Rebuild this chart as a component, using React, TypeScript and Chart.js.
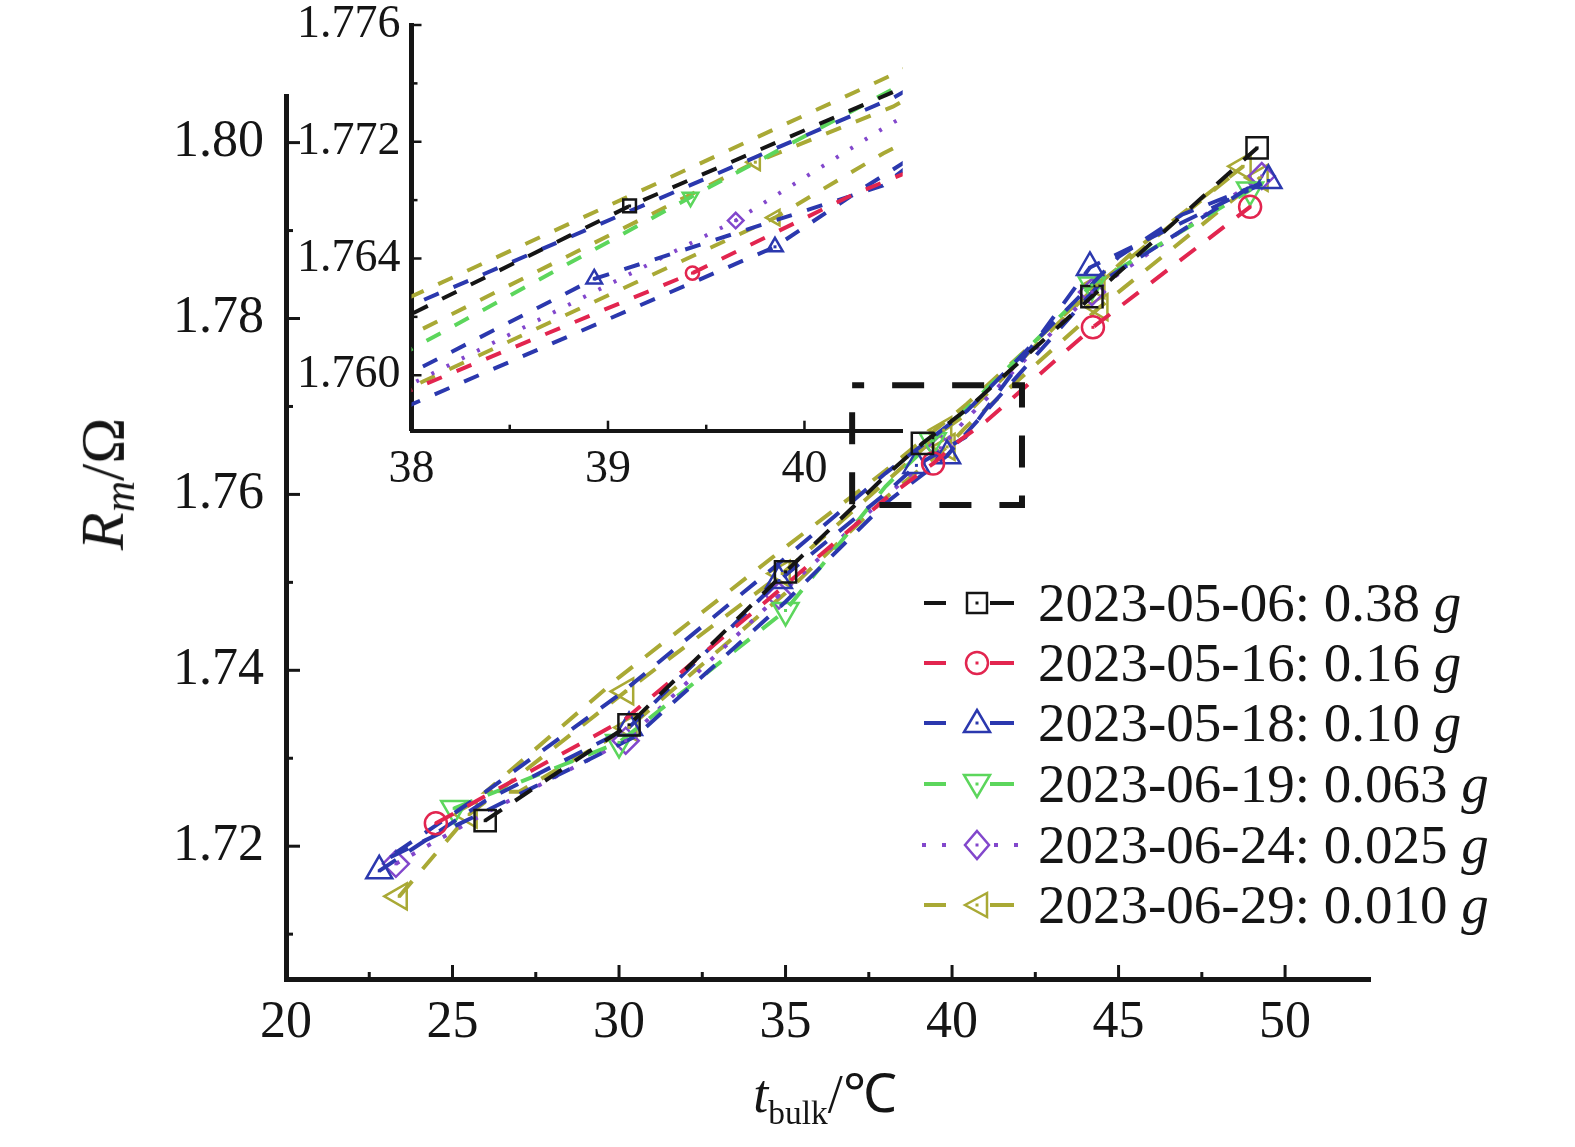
import { useEffect, useRef } from "react";
import { Chart, registerables } from "chart.js";

Chart.register(...registerables);

const SERIF = '"Liberation Serif", "Times New Roman", serif';

// axis ticks (main chart)
const X_TICKS = [20, 25, 30, 35, 40, 45, 50];
const X_MINOR = [22.5, 27.5, 32.5, 37.5, 42.5, 47.5];
const Y_TICKS = [1.72, 1.74, 1.76, 1.78, 1.8];
const Y_MINOR = [1.71, 1.73, 1.75, 1.77, 1.79];

// axis ticks (inset), labels as printed in the figure
const INSET_X_TICKS = [38, 39, 40];
const INSET_X_MINOR = [38.5, 39.5];
const INSET_Y_TICKS = [1.76, 1.764, 1.768, 1.772];
const INSET_Y_MINOR = [1.762, 1.766, 1.77];
const INSET_Y_LABELS = ["1.760", "1.764", "1.772", "1.776"];

// region magnified by the inset
const ZOOM_BOX_X = [37.0, 42.1];
const ZOOM_BOX_Y = [1.7588, 1.7724];

const LEGEND_DATES = ["2023-05-06", "2023-05-16", "2023-05-18", "2023-06-19", "2023-06-24", "2023-06-29"];
const LEGEND_G = ["0.38", "0.16", "0.10", "0.063", "0.025", "0.010"];

// 2023-05-06: 0.38 g
const X_0506 = [25.98, 30.3, 35.0, 38.0, 39.11, 40.45, 44.2, 49.16];
const Y_0506 = [1.7229, 1.7338, 1.7512, 1.7621, 1.7658, 1.7697, 1.7825, 1.7994];
const M_0506 = [1, 1, 1, 0, 1, 0, 1, 1];

// 2023-05-16: 0.16 g
const X_0516 = [24.5, 30.2, 35.0, 38.0, 39.43, 40.25, 41.05, 44.23, 48.95];
const Y_0516 = [1.7226, 1.7345, 1.7497, 1.7595, 1.7635, 1.7662, 1.7684, 1.779, 1.7927];
const M_0516 = [1, 0, 0, 0, 1, 0, 0, 1, 1];

// 2023-05-18: 0.10 g (up, down, up again)
const X_0518 = [22.8, 26.0, 30.3, 34.8, 38.0, 38.93, 40.4, 44.14, 49.5, 46.9, 45.0, 40.45, 38.0, 35.0, 30.0, 26.0, 23.0, 26.0, 30.5, 35.0, 38.0, 39.85, 40.25, 44.5, 49.3];
const Y_0518 = [1.7172, 1.7252, 1.7335, 1.7502, 1.7601, 1.7633, 1.7665, 1.7858, 1.7957, 1.7918, 1.787, 1.7695, 1.7624, 1.7528, 1.7372, 1.7262, 1.7185, 1.724, 1.7325, 1.7478, 1.759, 1.7644, 1.7662, 1.7842, 1.7958];
const M_0518 = [1, 0, 1, 1, 0, 1, 0, 1, 1, 0, 0, 0, 0, 0, 0, 0, 0, 0, 0, 0, 0, 1, 0, 0, 0];

// 2023-06-19: 0.063 g
const X_0619 = [25.05, 30.0, 35.0, 38.0, 39.42, 40.45, 44.2, 48.95];
const Y_0619 = [1.7243, 1.7318, 1.7468, 1.7609, 1.7661, 1.7698, 1.7838, 1.7946];
const M_0619 = [1, 1, 1, 0, 1, 0, 1, 1];

// 2023-06-24: 0.025 g
const X_0624 = [23.3, 26.0, 30.2, 34.8, 38.0, 39.65, 40.41, 44.2, 49.3];
const Y_0624 = [1.718, 1.7238, 1.732, 1.7485, 1.7597, 1.7653, 1.7685, 1.783, 1.7962];
const M_0624 = [1, 0, 1, 1, 0, 1, 0, 1, 1];

// 2023-06-29: 0.010 g (up, down, up again)
const X_0629 = [23.4, 25.5, 30.2, 34.9, 38.0, 39.75, 40.45, 44.35, 48.74, 45.5, 40.45, 38.0, 35.0, 30.0, 26.0, 27.0, 30.3, 35.0, 38.0, 39.85, 40.4, 44.44, 49.25];
const Y_0629 = [1.7143, 1.7236, 1.7376, 1.751, 1.7614, 1.7673, 1.7692, 1.7838, 1.7973, 1.7878, 1.7703, 1.7627, 1.754, 1.7392, 1.7262, 1.7262, 1.7335, 1.7488, 1.7596, 1.7654, 1.7676, 1.7813, 1.796];
const M_0629 = [1, 1, 1, 1, 0, 1, 0, 1, 1, 0, 0, 0, 0, 0, 0, 0, 1, 0, 0, 1, 0, 1, 1];

type Series = {
  color: string;
  xs: number[];
  ys: number[];
  marks: number[];
  style: "rect" | "circle" | "triangle" | "rectRot";
  rotation: number;
  radius: number;
  dotted: boolean;
};

const SERIES: Series[] = [
  { color: "#151515", xs: X_0506, ys: Y_0506, marks: M_0506, style: "rect", rotation: 0, radius: 15, dotted: false },
  { color: "#e2254f", xs: X_0516, ys: Y_0516, marks: M_0516, style: "circle", rotation: 0, radius: 11, dotted: false },
  { color: "#2b38ae", xs: X_0518, ys: Y_0518, marks: M_0518, style: "triangle", rotation: 0, radius: 15, dotted: false },
  { color: "#5cd65c", xs: X_0619, ys: Y_0619, marks: M_0619, style: "triangle", rotation: 180, radius: 15, dotted: false },
  { color: "#8247cc", xs: X_0624, ys: Y_0624, marks: M_0624, style: "rectRot", rotation: 0, radius: 13, dotted: true },
  { color: "#a9a935", xs: X_0629, ys: Y_0629, marks: M_0629, style: "triangle", rotation: 270, radius: 15, dotted: false },
];

function buildDatasets(scale: number, dash: number[], dot: number[], width: number) {
  return SERIES.map((s) => ({
    data: s.xs.map((x, i) => ({ x, y: s.ys[i] })),
    borderColor: s.color,
    borderWidth: width,
    borderDash: s.dotted ? dot : dash,
    tension: 0,
    fill: false,
    pointStyle: s.style,
    pointRotation: s.rotation,
    pointRadius: s.marks.map((m) => (m ? s.radius * scale : 0)),
    pointHoverRadius: 0,
    pointBorderWidth: 2.5,
    pointBorderColor: s.color,
    pointBackgroundColor: "rgba(0,0,0,0)",
  }));
}

// tick marks drawn on the inside of the axes
const innerTicks = {
  id: "innerTicks",
  afterDraw(chart: any, _args: any, opts: any) {
    const { ctx, chartArea, scales } = chart;
    ctx.save();
    ctx.strokeStyle = "#151515";
    ctx.lineWidth = opts.width;
    const drawX = (vals: number[], len: number) =>
      vals.forEach((v) => {
        const px = scales.x.getPixelForValue(v);
        ctx.beginPath();
        ctx.moveTo(px, chartArea.bottom);
        ctx.lineTo(px, chartArea.bottom - len);
        ctx.stroke();
      });
    const drawY = (vals: number[], len: number) =>
      vals.forEach((v) => {
        const py = scales.y.getPixelForValue(v);
        ctx.beginPath();
        ctx.moveTo(chartArea.left, py);
        ctx.lineTo(chartArea.left + len, py);
        ctx.stroke();
      });
    drawX(opts.xMajor, opts.major);
    drawX(opts.xMinor, opts.minor);
    drawY(opts.yMajor, opts.major);
    drawY(opts.yMinor, opts.minor);
    ctx.restore();
  },
};

// small dot in the middle of every marker
const markerDots = {
  id: "markerDots",
  afterDatasetsDraw(chart: any) {
    const { ctx, chartArea } = chart;
    ctx.save();
    chart.data.datasets.forEach((ds: any, i: number) => {
      chart.getDatasetMeta(i).data.forEach((pt: any) => {
        if (!pt.options || pt.options.radius <= 0) return;
        if (pt.x < chartArea.left || pt.x > chartArea.right || pt.y < chartArea.top || pt.y > chartArea.bottom) return;
        ctx.fillStyle = ds.pointBorderColor;
        ctx.fillRect(pt.x - 1.5, pt.y - 1.5, 3, 3);
      });
    });
    ctx.restore();
  },
};

// dashed rectangle marking the magnified region
const zoomBox = {
  id: "zoomBox",
  afterDatasetsDraw(chart: any) {
    const { ctx, scales } = chart;
    const x0 = scales.x.getPixelForValue(ZOOM_BOX_X[0]);
    const x1 = scales.x.getPixelForValue(ZOOM_BOX_X[1]);
    const y0 = scales.y.getPixelForValue(ZOOM_BOX_Y[1]);
    const y1 = scales.y.getPixelForValue(ZOOM_BOX_Y[0]);
    ctx.save();
    ctx.strokeStyle = "#151515";
    ctx.lineWidth = 6;
    ctx.setLineDash([32, 28]);
    ctx.lineDashOffset = 20;
    ctx.strokeRect(x0, y0, x1 - x0, y1 - y0);
    ctx.restore();
  },
};

function axisOptions(min: number, max: number, ticks: number[], size: number, padding: number, border: number, label: (v: number, i: number) => string, fit: (s: any) => void) {
  return {
    type: "linear" as const,
    min,
    max,
    afterBuildTicks: (s: any) => {
      s.ticks = ticks.map((value) => ({ value }));
    },
    afterFit: fit,
    grid: { display: false, drawTicks: false },
    border: { display: true, width: border, color: "#151515" },
    ticks: {
      autoSkip: false,
      maxRotation: 0,
      padding,
      color: "#151515",
      font: { family: SERIF, size },
      callback: (v: any, i: number) => label(Number(v), i),
    },
  };
}

function IconMarker({ s, cx, cy }: { s: Series; cx: number; cy: number }) {
  const p = { fill: "none", stroke: s.color, strokeWidth: 2.5 };
  if (s.style === "rect") return <rect x={cx - 10} y={cy - 10} width={20} height={20} {...p} />;
  if (s.style === "circle") return <circle cx={cx} cy={cy} r={11} {...p} />;
  if (s.style === "rectRot") return <polygon points={`${cx},${cy - 14} ${cx + 12},${cy} ${cx},${cy + 14} ${cx - 12},${cy}`} {...p} />;
  if (s.rotation === 180) return <polygon points={`${cx - 13},${cy - 9} ${cx + 13},${cy - 9} ${cx},${cy + 13}`} {...p} />;
  if (s.rotation === 270) return <polygon points={`${cx - 12},${cy} ${cx + 10},${cy - 12} ${cx + 10},${cy + 12}`} {...p} />;
  return <polygon points={`${cx},${cy - 13} ${cx + 13},${cy + 9} ${cx - 13},${cy + 9}`} {...p} />;
}

function LegendIcon({ s }: { s: Series }) {
  const line = s.dotted
    ? { strokeDasharray: "4 16", strokeWidth: 4 }
    : { strokeDasharray: "0", strokeWidth: 4 };
  return (
    <svg width={104} height={60} style={{ display: "block" }}>
      {s.dotted ? (
        <>
          <line x1={6} y1={30} x2={46} y2={30} stroke={s.color} {...line} />
          <line x1={78} y1={30} x2={104} y2={30} stroke={s.color} {...line} />
        </>
      ) : (
        <>
          <line x1={8} y1={30} x2={30} y2={30} stroke={s.color} {...line} />
          <line x1={74} y1={30} x2={98} y2={30} stroke={s.color} {...line} />
        </>
      )}
      <IconMarker s={s} cx={61} cy={30} />
      <rect x={59.5} y={28.5} width={3} height={3} fill={s.color} />
    </svg>
  );
}

const LEGEND_ROWS = [603, 663, 723, 784, 845, 905];

export default function App() {
  const mainRef = useRef<HTMLCanvasElement>(null);
  const insetRef = useRef<HTMLCanvasElement>(null);

  useEffect(() => {
    if (!mainRef.current || !insetRef.current) return;

    const main = new Chart(mainRef.current, {
      type: "line",
      data: { datasets: buildDatasets(1, [20, 16], [4, 14], 4) as any },
      options: {
        animation: false,
        responsive: false,
        maintainAspectRatio: false,
        layout: { padding: { left: 0, top: 96, right: 205, bottom: 0 } },
        plugins: {
          legend: { display: false },
          tooltip: { enabled: false },
          innerTicks: { width: 3, major: 14, minor: 7, xMajor: X_TICKS, xMinor: X_MINOR, yMajor: Y_TICKS, yMinor: Y_MINOR },
        } as any,
        scales: {
          x: axisOptions(20, 52.55, X_TICKS, 52, 13, 5, (v) => String(v), (s) => { s.height = 168; }),
          y: axisOptions(1.7049, 1.8053, Y_TICKS, 52, 22, 5, (v) => v.toFixed(2), (s) => { s.width = 286; }),
        } as any,
      },
      plugins: [innerTicks, markerDots, zoomBox],
    });

    const inset = new Chart(insetRef.current, {
      type: "line",
      data: { datasets: buildDatasets(0.6, [16, 16], [3, 14], 4) as any },
      options: {
        animation: false,
        responsive: false,
        maintainAspectRatio: false,
        layout: { padding: { left: 0, top: 65, right: 57.3, bottom: 0 } },
        plugins: {
          legend: { display: false },
          tooltip: { enabled: false },
          innerTicks: { width: 2.5, major: 10, minor: 6, xMajor: INSET_X_TICKS, xMinor: INSET_X_MINOR, yMajor: INSET_Y_TICKS, yMinor: INSET_Y_MINOR },
        } as any,
        scales: {
          x: axisOptions(38, 40.5, INSET_X_TICKS, 46, 12, 4, (v) => String(v), (s) => { s.height = 89.3; }),
          y: axisOptions(1.7581, 1.772, INSET_Y_TICKS, 46, 11, 5, (_v, i) => INSET_Y_LABELS[i], (s) => { s.width = 411.5; }),
        } as any,
      },
      plugins: [innerTicks, markerDots],
    });

    return () => {
      main.destroy();
      inset.destroy();
    };
  }, []);

  return (
    <div style={{ position: "absolute", left: 0, top: 0, width: 1575, height: 1147, background: "#fff", overflow: "hidden", fontFamily: SERIF, color: "#151515" }}>
      <canvas ref={mainRef} width={1575} height={1147} style={{ position: "absolute", left: 0, top: 0 }} />
      <canvas ref={insetRef} width={960} height={560} style={{ position: "absolute", left: 0, top: -40 }} />

      {LEGEND_ROWS.map((cy, i) => (
        <div key={i} style={{ position: "absolute", left: 916, top: cy - 30, height: 60, display: "flex", alignItems: "center", whiteSpace: "nowrap" }}>
          <LegendIcon s={SERIES[i]} />
          <span style={{ marginLeft: 18, fontSize: 55, lineHeight: "60px" }}>
            {LEGEND_DATES[i]}: {LEGEND_G[i]} <i>g</i>
          </span>
        </div>
      ))}

      <div style={{ position: "absolute", left: 106, top: 484, transform: "translate(-50%, -50%) rotate(-90deg)", fontSize: 62, whiteSpace: "nowrap", lineHeight: 1 }}>
        <i>R</i>
        <sub style={{ fontSize: "0.7em", verticalAlign: "-0.25em" }}><i>m</i></sub>/Ω
      </div>

      <div style={{ position: "absolute", left: 825, top: 1098, transform: "translate(-50%, -50%)", fontSize: 54, whiteSpace: "nowrap", lineHeight: 1 }}>
        <i>t</i>
        <sub style={{ fontSize: "0.62em", verticalAlign: "-0.35em" }}>bulk</sub>/℃
      </div>
    </div>
  );
}
